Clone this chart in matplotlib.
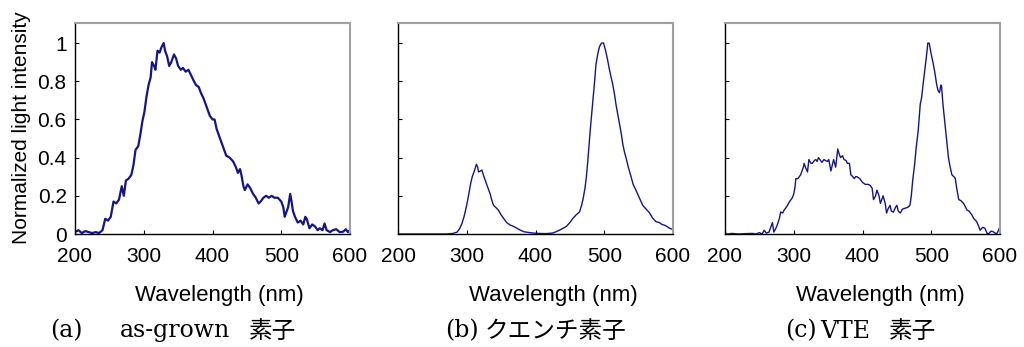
import matplotlib
matplotlib.use("Agg")
import matplotlib.pyplot as plt

# ---------------- data ----------------
wl_a = [200, 205, 210, 215, 220, 225, 230, 235, 240, 244, 248, 252, 256, 260, 264, 268, 271, 274,
        278, 282, 285, 288, 292, 295, 298, 301, 304, 307, 310, 312, 315, 317, 320, 323, 326, 329,
        331, 334, 337, 340, 344, 347, 350, 354, 357, 361, 365, 369, 373, 376, 380, 383, 387, 390,
        393, 396, 400, 403, 406, 410, 413, 417, 420, 425, 430, 434, 437, 440, 442, 445, 447, 451,
        455, 459, 463, 467, 470, 474, 478, 482, 486, 490, 495, 500, 503, 505, 508, 510, 513, 515,
        517, 520, 524, 528, 532, 535, 537, 541, 545, 549, 553, 556, 560, 563, 566, 571, 575, 580,
        585, 590, 594, 597, 600]
int_a = [0.01, 0.02, 0.005, 0.015, 0.01, 0.005, 0.01, 0.005, 0.02, 0.08, 0.07, 0.09, 0.17, 0.16,
         0.18, 0.25, 0.20, 0.28, 0.29, 0.31, 0.36, 0.44, 0.46, 0.52, 0.59, 0.64, 0.72, 0.78, 0.82,
         0.90, 0.88, 0.86, 0.96, 0.95, 0.98, 1.0, 0.96, 0.93, 0.88, 0.90, 0.94, 0.92, 0.88, 0.86,
         0.87, 0.85, 0.86, 0.83, 0.80, 0.78, 0.77, 0.74, 0.71, 0.68, 0.65, 0.62, 0.60, 0.60, 0.55,
         0.51, 0.48, 0.44, 0.41, 0.40, 0.38, 0.35, 0.32, 0.34, 0.31, 0.25, 0.23, 0.26, 0.24, 0.21,
         0.19, 0.16, 0.17, 0.19, 0.20, 0.19, 0.20, 0.19, 0.19, 0.17, 0.14, 0.09, 0.12, 0.14, 0.21,
         0.17, 0.12, 0.09, 0.06, 0.07, 0.05, 0.09, 0.08, 0.03, 0.05, 0.04, 0.02, 0.03, 0.02, 0.055,
         0.02, 0.01, 0.02, 0.025, 0.01, 0.012, 0.025, 0.01, 0.02]

wl_b = [200, 250, 270, 280, 286, 290, 293, 296, 298, 301, 303, 306, 308, 310, 312, 314, 316, 317,
        320, 322, 325, 327, 330, 334, 337, 339, 342, 346, 350, 354, 358, 363, 368, 373, 378, 383,
        390, 397, 405, 415, 425, 430, 435, 440, 445, 450, 454, 459, 464, 467, 469, 472, 474, 476,
        478, 480, 483, 486, 488, 491, 493, 496, 499, 502, 505, 507, 510, 512, 515, 517, 520, 522,
        525, 527, 530, 532, 535, 539, 542, 546, 551, 556, 561, 566, 570, 575, 580, 584, 587, 591,
        595, 600]
int_b = [0, 0, 0, 0.003, 0.01, 0.03, 0.055, 0.09, 0.12, 0.17, 0.21, 0.27, 0.30, 0.32, 0.34, 0.365,
         0.35, 0.325, 0.33, 0.335, 0.30, 0.28, 0.25, 0.21, 0.17, 0.15, 0.14, 0.125, 0.10, 0.08,
         0.06, 0.047, 0.04, 0.03, 0.02, 0.012, 0.008, 0.005, 0.003, 0.002, 0.005, 0.012, 0.02, 0.03,
         0.04, 0.06, 0.08, 0.10, 0.115, 0.15, 0.18, 0.24, 0.30, 0.38, 0.47, 0.56, 0.68, 0.80, 0.89,
         0.95, 0.98, 1.0, 1.0, 0.96, 0.91, 0.87, 0.82, 0.79, 0.73, 0.68, 0.62, 0.58, 0.52, 0.47,
         0.42, 0.395, 0.35, 0.30, 0.26, 0.23, 0.19, 0.15, 0.13, 0.11, 0.085, 0.065, 0.06, 0.05,
         0.047, 0.04, 0.03, 0.024]

wl_c = [200, 205, 210, 220, 230, 240, 245, 250, 254, 257, 260, 264, 267, 269, 271, 274, 276, 279,
        281, 284, 286, 289, 291, 293, 295, 298, 300, 302, 303, 306, 308, 310, 312, 314, 315, 317,
        320, 322, 325, 327, 330, 332, 334, 336, 339, 341, 344, 346, 349, 351, 354, 356, 358, 361,
        364, 366, 368, 371, 373, 376, 378, 381, 383, 386, 388, 390, 392, 396, 400, 404, 408, 411,
        414, 416, 419, 421, 424, 426, 428, 430, 433, 435, 437, 440, 442, 445, 448, 450, 452, 455,
        458, 462, 466, 469, 471, 473, 476, 478, 481, 484, 486, 488, 491, 493, 495, 497, 498, 500,
        503, 505, 508, 510, 512, 514, 515, 517, 520, 522, 525, 527, 530, 533, 535, 537, 540, 543,
        547, 550, 552, 555, 559, 562, 566, 569, 571, 575, 578, 581, 583, 587, 590, 593, 595, 598,
        600]
int_c = [0.003, 0, 0.003, 0, 0.002, 0.003, 0.0, 0.007, 0, 0.02, 0.005, 0.01, 0.04, 0.06, 0.01,
         0.03, 0.047, 0.08, 0.115, 0.11, 0.125, 0.14, 0.15, 0.165, 0.175, 0.19, 0.21, 0.25, 0.29,
         0.29, 0.30, 0.31, 0.33, 0.35, 0.37, 0.35, 0.325, 0.39, 0.37, 0.37, 0.385, 0.39, 0.38, 0.40,
         0.385, 0.375, 0.39, 0.385, 0.38, 0.39, 0.33, 0.36, 0.39, 0.35, 0.445, 0.42, 0.40, 0.41,
         0.39, 0.385, 0.37, 0.37, 0.31, 0.30, 0.29, 0.30, 0.30, 0.29, 0.27, 0.26, 0.26, 0.255, 0.24,
         0.18, 0.20, 0.23, 0.20, 0.16, 0.18, 0.20, 0.16, 0.11, 0.13, 0.15, 0.12, 0.115, 0.14, 0.15,
         0.12, 0.11, 0.13, 0.135, 0.14, 0.15, 0.20, 0.28, 0.37, 0.45, 0.54, 0.68, 0.715, 0.78, 0.87,
         0.93, 1.0, 1.0, 0.98, 0.94, 0.89, 0.85, 0.78, 0.75, 0.74, 0.78, 0.775, 0.68, 0.575, 0.50,
         0.40, 0.36, 0.31, 0.30, 0.29, 0.24, 0.18, 0.175, 0.16, 0.14, 0.125, 0.12, 0.10, 0.08,
         0.065, 0.04, 0.02, 0.035, 0.03, 0.005, 0, 0.015, 0.012, 0.005, 0, 0.02, 0.04]

x_ticks = [200, 300, 400, 500, 600]
y_ticks = [0, 0.2, 0.4, 0.6, 0.8, 1.0]
y_tick_labels = ["0", "0.2", "0.4", "0.6", "0.8", "1"]
x_label = "Wavelength (nm)"
y_label = "Normalized light intensity"
# caption pieces: (text, is_cjk)
captions = [
    [("(a)", False), ("as-grown", False), ("素子", True)],
    [("(b)", False), ("クエンチ素子", True)],
    [("(c)", False), ("VTE", False), ("素子", True)],
]

# ---------------- figure ----------------
W, H = 1024, 347
fig = plt.figure(figsize=(W / 100, H / 100), dpi=100)

sans = ["Liberation Sans", "DejaVu Sans"]
serif = ["DejaVu Serif", "Noto Sans CJK JP"]
cjk = ["Noto Sans CJK JP", "DejaVu Sans"]
line_color = "#15158a"

ax_lefts = [75, 398, 725]
ax_w = 275
ax_top, ax_bot = 23, 234
series = [(wl_a, int_a, 1.6), (wl_b, int_b, 1.0), (wl_c, int_c, 1.0)]
xlabel_cx = [219, 553, 880]
caption_xs = [[50, 120, 249], [445, 485], [785, 820, 889]]

for i, (left, (wl, iv, lw)) in enumerate(zip(ax_lefts, series)):
    ax = fig.add_axes([left / W, 1 - ax_bot / H, ax_w / W, (ax_bot - ax_top) / H])
    ax.plot(wl, iv, color=line_color, lw=lw)
    ax.set_xlim(200, 600)
    ax.set_ylim(0, 1.105)
    ax.set_xticks(x_ticks)
    ax.set_yticks(y_ticks)
    ax.tick_params(axis="both", direction="in", length=3, width=0.8, colors="black")
    ax.tick_params(axis="x", pad=9)
    ax.tick_params(axis="y", pad=6)
    ax.set_xticklabels([str(v) for v in x_ticks], fontsize=15, family=sans)
    if i == 0:
        ax.set_yticklabels(y_tick_labels, fontsize=15, family=sans)
    else:
        ax.set_yticklabels([])
    for s in ["left", "bottom"]:
        ax.spines[s].set_color("black")
        ax.spines[s].set_linewidth(1.0)
    for s in ["top", "right"]:
        ax.spines[s].set_color("#a0a0a0")
        ax.spines[s].set_linewidth(1.5)
    fig.text(xlabel_cx[i] / W, 1 - 295 / H, x_label, ha="center", va="center",
             fontsize=16, family=sans)
    for (txt, is_cjk), cx in zip(captions[i], caption_xs[i]):
        fig.text(cx / W, 1 - 331 / H, txt, ha="left", va="center",
                 fontsize=17, family=cjk if is_cjk else serif)

fig.text(22 / W, 1 - 128 / H, y_label, rotation=90, ha="center", va="center",
         fontsize=15, family=sans)

fig.savefig("out.png", dpi=100)
